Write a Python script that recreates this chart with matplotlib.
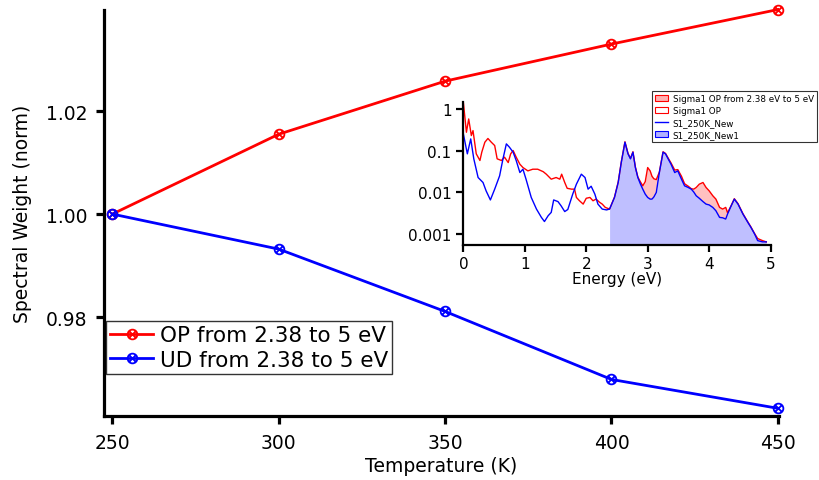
import matplotlib
matplotlib.use("Agg")
import matplotlib.pyplot as plt
import numpy as np
from matplotlib.path import Path
from matplotlib.patches import Patch
from matplotlib.lines import Line2D
from matplotlib.ticker import FixedLocator, FixedFormatter, NullLocator

# main panel data
temperature = [250, 300, 350, 400, 450]
sw_op = [1.0000, 1.0155, 1.0258, 1.0330, 1.0397]
sw_ud = [1.0000, 0.9932, 0.9811, 0.9679, 0.9623]

# inset: spectra below 2.38 eV (log10 of value)
blue_e_lo = [0.0, 0.065, 0.12, 0.17, 0.24, 0.32, 0.37, 0.44, 0.51, 0.59, 0.645, 0.70, 0.75,
             0.81, 0.86, 0.92, 0.97, 1.02, 1.105, 1.19, 1.27, 1.32, 1.38, 1.43, 1.47, 1.54,
             1.59, 1.65, 1.70, 1.78, 1.84, 1.92, 1.98, 2.03, 2.08, 2.14, 2.19, 2.26, 2.33]
blue_lg_lo = [-0.6, -1.08, -0.72, -1.2, -1.65, -1.77, -1.97, -2.19, -1.93, -1.61, -1.2, -0.84, -0.92,
              -1.04, -1.24, -1.53, -1.45, -1.69, -2.13, -2.41, -2.61, -2.71, -2.57, -2.49, -2.19, -2.23,
              -2.33, -2.47, -2.42, -2.05, -1.81, -1.57, -1.65, -1.93, -1.86, -2.05, -2.29, -2.41, -2.43]
red_e_lo = [0.0, 0.05, 0.087, 0.13, 0.157, 0.21, 0.27, 0.30, 0.35, 0.40, 0.455, 0.51, 0.55, 0.62,
            0.67, 0.73, 0.77, 0.81, 0.86, 0.92, 0.97, 1.05, 1.13, 1.21, 1.30, 1.35, 1.43, 1.51,
            1.57, 1.60, 1.65, 1.69, 1.76, 1.81, 1.84, 1.89, 1.95, 2.00, 2.06, 2.11, 2.16, 2.22,
            2.26, 2.31]
red_lg_lo = [0.16, -0.56, -0.24, -0.64, -0.52, -1.08, -1.24, -1.04, -0.80, -0.71, -0.80, -0.88, -1.2, -1.24,
             -1.16, -1.29, -1.08, -1.0, -1.16, -1.33, -1.41, -1.49, -1.45, -1.45, -1.51, -1.57, -1.69, -1.65,
             -1.69, -1.57, -1.77, -1.91, -1.93, -1.93, -2.13, -2.21, -2.29, -2.15, -2.13, -2.21, -2.17, -2.25,
             -2.29, -2.37]

# inset: spectra from 2.38 to 5 eV on a shared energy grid
e_hi = [2.38, 2.46, 2.52, 2.57, 2.63, 2.68, 2.72, 2.76, 2.80, 2.84, 2.88, 2.92, 2.96, 3.0, 3.04,
        3.07, 3.10, 3.14, 3.19, 3.25, 3.29, 3.34, 3.38, 3.44, 3.49, 3.55, 3.60, 3.66, 3.71, 3.75,
        3.79, 3.84, 3.90, 3.95, 4.0, 4.06, 4.11, 4.17, 4.22, 4.27, 4.30, 4.36, 4.41, 4.47, 4.55,
        4.63, 4.68, 4.74, 4.79, 4.87, 4.93]
blue_lg_hi = [-2.41, -2.13, -1.77, -1.29, -0.80, -1.08, -1.20, -1.04, -1.41, -1.65, -1.80, -1.93, -2.05, -2.13, -2.17,
              -2.17, -2.12, -2.01, -1.53, -1.04, -1.08, -1.22, -1.33, -1.53, -1.49, -1.69, -1.85, -1.89, -1.93, -2.0,
              -2.09, -2.15, -2.23, -2.29, -2.31, -2.37, -2.45, -2.61, -2.62, -2.65, -2.53, -2.33, -2.17, -2.29, -2.53,
              -2.73, -2.85, -3.01, -3.17, -3.2, -3.2]
red_lg_hi = [-2.41, -2.12, -1.76, -1.28, -0.79, -1.07, -1.19, -1.03, -1.40, -1.64, -1.75, -1.85, -1.75, -1.41, -1.49,
             -1.62, -1.68, -1.70, -1.52, -1.03, -1.07, -1.20, -1.30, -1.47, -1.46, -1.62, -1.80, -1.86, -1.92, -1.93,
             -1.89, -1.81, -1.77, -1.89, -1.97, -2.09, -2.17, -2.37, -2.41, -2.37, -2.50, -2.32, -2.16, -2.28, -2.52,
             -2.72, -2.84, -3.00, -3.12, -3.17, -3.20]

# circle with a cross inside
circ = Path.unit_circle()
xmark = Path([(-0.72, -0.72), (0.72, 0.72), (-0.72, 0.72), (0.72, -0.72)],
             [Path.MOVETO, Path.LINETO, Path.MOVETO, Path.LINETO])
cmark = Path.make_compound_path(circ, xmark)

fig = plt.figure(figsize=(8.19, 4.81), dpi=100)
ax = fig.add_axes([0.127, 0.133, 0.824, 0.844])

ax.plot(temperature, sw_op, color='#ff0000', lw=2, marker=cmark, ms=7, mfc='none', mew=1.3,
        label='OP from 2.38 to 5 eV', clip_on=False)
ax.plot(temperature, sw_ud, color='#0000ff', lw=2, marker=cmark, ms=7, mfc='none', mew=1.3,
        label='UD from 2.38 to 5 eV', clip_on=False)
ax.set_xlim(247.5, 450.3)
ax.set_ylim(0.9608, 1.0396)
ax.set_xticks(temperature)
ax.set_yticks([0.98, 1.00, 1.02])
ax.set_yticklabels(['0.98', '1.00', '1.02'])
for s in ['top', 'right']:
    ax.spines[s].set_visible(False)
for s in ['left', 'bottom']:
    ax.spines[s].set_linewidth(2.3)
ax.tick_params(direction='out', length=6, width=2.3, labelsize=13.5, pad=6)
ax.set_xlabel('Temperature (K)', fontsize=13.5, labelpad=3)
ax.set_ylabel('Spectral Weight (norm)', fontsize=13.5, labelpad=10)
leg = ax.legend(loc='upper left', bbox_to_anchor=(0.003, 0.234), fontsize=15.5, frameon=True,
                fancybox=False, edgecolor='black', handlelength=2.0, handletextpad=0.3,
                borderpad=0.2, labelspacing=0.2, borderaxespad=0)
leg.get_frame().set_linewidth(1.0)

# inset
ins = fig.add_axes([0.565, 0.489, 0.377, 0.297])
blue_e = blue_e_lo + e_hi
blue_v = 10 ** np.array(blue_lg_lo + blue_lg_hi)
red_e = red_e_lo + e_hi
red_v = 10 ** np.array(red_lg_lo + red_lg_hi)
eh = np.array(e_hi)
bh = 10 ** np.array(blue_lg_hi)
rh = 10 ** np.array(red_lg_hi)
ylo = 10 ** -3.27
ins.fill_between(eh, ylo, bh, color='#bfbfff', lw=0)
ins.fill_between(eh, bh, rh, where=rh > bh, interpolate=True, color='#ffc0c0', lw=0)
ins.plot(red_e, red_v, color='#ff0000', lw=1.0)
ins.plot(blue_e, blue_v, color='#0000ff', lw=1.0)
ins.set_yscale('log')
ins.set_xlim(-0.01, 5.015)
ins.set_ylim(ylo, 10 ** 0.17)
ins.yaxis.set_major_locator(FixedLocator([1, 0.1, 0.01, 0.001]))
ins.yaxis.set_major_formatter(FixedFormatter(['1', '0.1', '0.01', '0.001']))
ins.yaxis.set_minor_locator(NullLocator())
ins.set_xticks([0, 1, 2, 3, 4, 5])
ins.patch.set_alpha(0)
for s in ['top', 'right']:
    ins.spines[s].set_visible(False)
for s in ['left', 'bottom']:
    ins.spines[s].set_linewidth(1.6)
ins.tick_params(direction='out', length=5, width=1.6, labelsize=11, pad=3)
ins.set_xlabel('Energy (eV)', fontsize=11, labelpad=0)

handles = [Patch(facecolor='#ffb0b0', edgecolor='#ff0000', lw=0.8),
           Patch(facecolor='white', edgecolor='#ff0000', lw=0.8),
           Line2D([], [], color='#0000ff', lw=1),
           Patch(facecolor='#b0b0ff', edgecolor='#0000ff', lw=0.8)]
labels = ['Sigma1 OP from 2.38 eV to 5 eV', 'Sigma1 OP', 'S1_250K_New', 'S1_250K_New1']
il = fig.legend(handles, labels, loc='upper left', bbox_to_anchor=(652 / 819, 1 - 92 / 481),
                fontsize=6.3, frameon=True, fancybox=False, edgecolor='black',
                handlelength=1.5, handleheight=0.6, handletextpad=0.5, borderpad=0.35,
                labelspacing=0.35, borderaxespad=0)
il.get_frame().set_linewidth(0.8)

fig.savefig('out.png', dpi=100)
